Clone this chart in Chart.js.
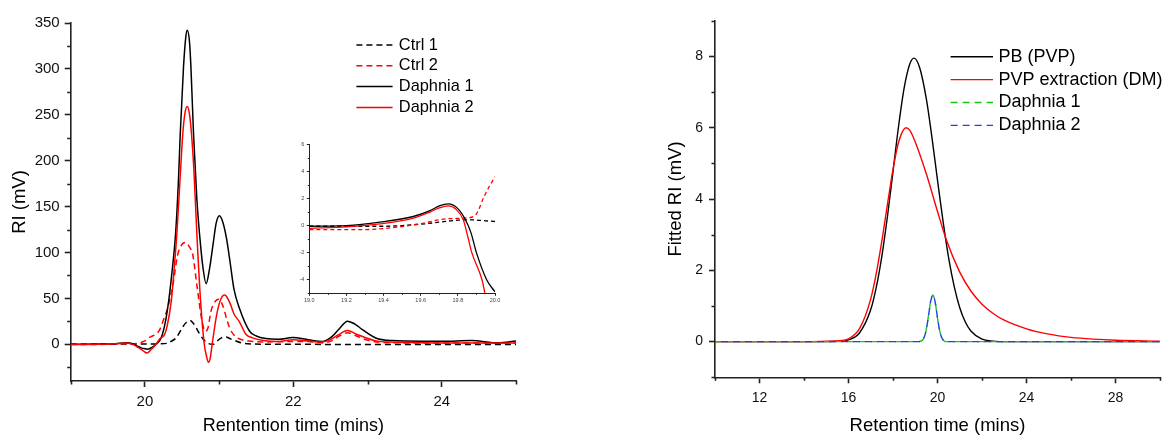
<!DOCTYPE html>
<html>
<head>
<meta charset="utf-8">
<script src="https://cdn.jsdelivr.net/npm/chart.js@4.4.1/dist/chart.umd.min.js"></script>
<style>
  html, body { margin: 0; padding: 0; background: #fff; }
  #wrap { position: relative; width: 1168px; height: 435px; }
  canvas { position: absolute; }
  #left { left: 0; top: 0; }
  #inset { left: 280px; top: 130px; }
  #right { left: 600px; top: 0; }
</style>
</head>
<body>
<div id="wrap">
  <canvas id="left" width="540" height="435"></canvas>
  <canvas id="inset" width="230" height="180"></canvas>
  <canvas id="right" width="568" height="435"></canvas>
</div>
<script>
// ---- left panel: raw RI traces (time in mins, RI in mV)
var ctrl1T = [19.0, 19.8, 20.0, 20.2, 20.29, 20.35, 20.42, 20.51, 20.56, 20.61, 20.66, 20.69, 20.74, 20.78, 20.85, 20.92, 20.98, 21.03, 21.09, 21.15, 21.2, 21.3, 21.45, 22.0, 23.0, 24.0, 25.0];
var ctrl1V = [0, 0.4, 0.3, 0.5, 1, 3, 7, 19, 24, 26, 22, 18, 11, 6, 1, 0, 4, 7, 8, 6, 4.4, 1.5, 0.3, 0, -0.3, -0.3, -0.3];

var ctrl2T = [19.0, 19.4, 19.7, 19.9, 19.95, 20.0, 20.05, 20.1, 20.15, 20.2, 20.243, 20.3, 20.377, 20.44, 20.5, 20.544, 20.6, 20.646, 20.7, 20.77, 20.816, 20.85, 20.89, 20.95, 20.995, 21.05, 21.1, 21.14, 21.2, 21.27, 21.4, 21.6, 22.0, 22.2, 22.4, 22.52, 22.62, 22.73, 22.85, 22.98, 23.2, 23.6, 24.0, 24.5, 25.0];
var ctrl2V = [-0.3, -0.2, 0.4, 0.9, 2.1, 3.6, 7, 9, 11, 16, 25, 38, 64.5, 97, 109, 111, 106, 97, 64.5, 25, 14, 18, 36, 47, 49, 42, 28, 18, 10, 6, 3.5, 2.5, 3, 3, 1.5, 4, 9, 12.5, 9, 5, 2, 1.5, 1.5, 1.5, 1.5];

var daph1T = [19.0, 19.4, 19.6, 19.75, 19.85, 19.9, 19.95, 20.0, 20.04, 20.1, 20.15, 20.2, 20.235, 20.28, 20.32, 20.36, 20.413, 20.45, 20.476, 20.52, 20.55, 20.57, 20.6, 20.62, 20.655, 20.7, 20.736, 20.78, 20.825, 20.87, 20.92, 20.96, 21.004, 21.05, 21.1, 21.15, 21.2, 21.27, 21.41, 21.5, 21.63, 21.8, 21.99, 22.2, 22.39, 22.52, 22.62, 22.73, 22.83, 22.93, 23.11, 23.33, 23.73, 24.0, 24.4, 24.76, 25.0];
var daph1V = [0, 0.3, 0.7, 1.6, 0.2, -2, -3.9, -4.9, -5.3, -3, 0, 4, 10.6, 26, 47, 75, 120, 175, 229, 302, 334, 342, 330, 302, 229, 158, 120, 85, 66, 82, 110, 132, 140, 133, 115, 88, 60, 40, 14.2, 9, 6.2, 5.5, 7.3, 5, 3, 8.4, 17, 25.2, 22, 16, 6.9, 4, 3.3, 3.3, 4, 1.4, 3.5];

var daph2T = [19.0, 19.4, 19.6, 19.75, 19.85, 19.9, 19.95, 20.0, 20.03, 20.08, 20.15, 20.2, 20.265, 20.3, 20.355, 20.4, 20.43, 20.47, 20.51, 20.54, 20.57, 20.6, 20.628, 20.66, 20.7, 20.75, 20.8, 20.83, 20.856, 20.88, 20.906, 20.96, 21.0, 21.04, 21.075, 21.1, 21.15, 21.2, 21.27, 21.36, 21.45, 21.6, 21.8, 22.0, 22.2, 22.39, 22.5, 22.6, 22.73, 22.85, 22.98, 23.1, 23.29, 23.6, 24.0, 24.5, 25.0];
var daph2V = [-0.2, 0.1, 0.5, 1.45, -0.6, -3, -5.5, -8.5, -9.5, -6, 0, 6, 10.6, 20, 47, 88, 120, 175, 229, 252, 259, 251, 229, 190, 120, 47, 0, -13, -19.7, -15, 0, 29, 44, 52, 53.6, 52, 44, 33, 25, 11, 7, 4, 3, 5, 3.5, 2.4, 5, 10, 14.9, 11, 6.9, 4, 2.4, 2, 1.5, 1.5, 1.5];

// ---- inset: 19.0 - 20.0 min close-up
var inCtrl1T = [19.0, 19.2, 19.4, 19.5, 19.6, 19.7, 19.8, 19.88, 19.95, 20.0];
var inCtrl1V = [-0.05, -0.05, -0.05, 0, 0.1, 0.25, 0.4, 0.42, 0.35, 0.3];
var inCtrl2T = [19.0, 19.1, 19.29, 19.47, 19.61, 19.74, 19.85, 19.9, 19.94, 19.97, 20.0];
var inCtrl2V = [-0.3, -0.3, -0.3, -0.12, 0.17, 0.5, 0.57, 0.87, 2.1, 2.9, 3.6];
var inDaph1T = [19.0, 19.2, 19.38, 19.56, 19.65, 19.7, 19.75, 19.8, 19.84, 19.87, 19.9, 19.955, 20.0];
var inDaph1V = [-0.05, 0, 0.25, 0.67, 1.1, 1.45, 1.6, 1.25, 0.45, -0.5, -2, -4, -4.9];
var inDaph2T = [19.0, 19.2, 19.38, 19.56, 19.65, 19.7, 19.75, 19.79, 19.83, 19.855, 19.875, 19.93, 19.95];
var inDaph2V = [-0.2, -0.1, 0.12, 0.55, 1.0, 1.3, 1.45, 1.2, 0.4, -0.9, -2, -4, -5.3];

// ---- right panel: fitted RI
var pbT = [10, 14, 15, 15.5, 16, 16.5, 17, 17.25, 17.5, 17.75, 18, 18.25, 18.5, 18.75, 18.94, 19.2, 19.5, 19.75, 20, 20.25, 20.5, 20.75, 21, 21.25, 21.5, 22, 22.5, 23, 30];
var pbV = [0, 0, 0, 0.01, 0.05, 0.25, 0.9, 1.53, 2.4, 3.51, 4.77, 6.04, 7.11, 7.78, 7.95, 7.68, 6.8, 5.73, 4.53, 3.37, 2.35, 1.55, 0.95, 0.55, 0.3, 0.07, 0.015, 0, 0];
var pvpT = [10, 14, 15, 15.5, 16, 16.5, 17, 17.25, 17.55, 17.75, 18, 18.25, 18.58, 18.75, 19, 19.5, 20, 20.4, 21, 21.5, 22, 22.5, 23, 24, 25, 26, 27, 28, 30];
var pvpV = [0, 0, 0.01, 0.02, 0.08, 0.37, 1.2, 1.92, 3.02, 3.85, 4.83, 5.59, 6.0, 5.93, 5.6, 4.7, 3.65, 2.85, 1.95, 1.42, 1.05, 0.79, 0.6, 0.36, 0.21, 0.12, 0.07, 0.04, 0.015];
var fitDaphT = [10, 19.1, 19.3, 19.4, 19.5, 19.6, 19.7, 19.79, 19.9, 20.0, 20.1, 20.2, 20.3, 20.4, 30];
var fitDaph1V = [0, 0, 0.03, 0.12, 0.36, 0.75, 1.16, 1.31, 1.09, 0.66, 0.3, 0.1, 0.02, 0, 0];
var fitDaph2V = [0, 0, 0.03, 0.12, 0.35, 0.74, 1.15, 1.30, 1.09, 0.67, 0.3, 0.1, 0.02, 0, 0];

// ---- axis ticks
var leftXMajor = [20, 22, 24], leftXMinor = [19, 21, 23, 25];
var leftYMajor = [0, 50, 100, 150, 200, 250, 300, 350], leftYMinor = [-25, 25, 75, 125, 175, 225, 275, 325];
var inXMajor = [19.0, 19.2, 19.4, 19.6, 19.8, 20.0], inXMinor = [19.1, 19.3, 19.5, 19.7, 19.9];
var inYMajor = [-4, -2, 0, 2, 4, 6], inYMinor = [-5, -3, -1, 1, 3, 5];
var rightXMajor = [12, 16, 20, 24, 28], rightXMinor = [10, 14, 18, 22, 26, 30];
var rightYMajor = [0, 2, 4, 6, 8], rightYMinor = [-1, 1, 3, 5, 7, 9];

var FONT = "'Liberation Sans', Arial, sans-serif";
var AXIS = '#222';
Chart.defaults.font.family = FONT;
Chart.defaults.color = '#111';

function pts(t, v) {
    return t.map(function (x, i) { return { x: x, y: v[i] }; });
}

// minor tick marks (shorter than the library's major ticks)
var minorTicks = {
    id: 'minorTicks',
    afterDraw: function (chart, args, o) {
        var ctx = chart.ctx, a = chart.chartArea, sc = chart.scales;
        ctx.save();
        ctx.strokeStyle = AXIS;
        ctx.lineWidth = o.width;
        ctx.beginPath();
        (o.x || []).forEach(function (v) {
            var p = Math.round(sc.x.getPixelForValue(v)) + 0.5;
            ctx.moveTo(p, a.bottom);
            ctx.lineTo(p, a.bottom + o.len);
        });
        (o.y || []).forEach(function (v) {
            var p = Math.round(sc.y.getPixelForValue(v)) + 0.5;
            ctx.moveTo(a.left, p);
            ctx.lineTo(a.left - o.len, p);
        });
        ctx.stroke();
        ctx.restore();
    }
};

// line-sample legend placed inside the plot
var lineLegend = {
    id: 'lineLegend',
    afterDraw: function (chart, args, o) {
        if (!o.x) return;
        var ctx = chart.ctx;
        ctx.save();
        ctx.font = o.size + 'px ' + FONT;
        ctx.textBaseline = 'middle';
        chart.data.datasets.forEach(function (ds, i) {
            var y = o.top + i * o.row;
            ctx.strokeStyle = ds.borderColor;
            ctx.lineWidth = ds.borderWidth;
            ctx.setLineDash(ds.borderDash || []);
            ctx.lineDashOffset = 0;
            ctx.beginPath();
            ctx.moveTo(o.x, y);
            ctx.lineTo(o.x + o.len, y);
            ctx.stroke();
            ctx.setLineDash([]);
            ctx.fillStyle = '#000';
            ctx.fillText(ds.label, o.x + o.len + o.gap, y);
        });
        ctx.restore();
    }
};

function axis(o) {
    return {
        type: 'linear',
        position: o.pos,
        min: o.min,
        max: o.max,
        afterBuildTicks: function (s) {
            s.ticks = o.major.map(function (v) { return { value: v }; });
        },
        afterFit: function (s) {
            if (o.pos === 'bottom') s.height = o.size; else s.width = o.size;
        },
        border: { display: true, color: AXIS, width: o.bw },
        grid: { display: true, drawOnChartArea: false, drawTicks: true, tickLength: o.tick, tickColor: AXIS, tickWidth: o.bw },
        ticks: {
            autoSkip: false, maxRotation: 0, color: o.tickColor || '#111', padding: o.pad,
            font: { size: o.fs },
            callback: function (v) { return o.dec ? v.toFixed(o.dec) : v; }
        },
        title: o.title ? {
            display: true, text: o.title, color: '#000',
            font: { size: o.tfs, lineHeight: 1 },
            padding: o.tpad
        } : { display: false }
    };
}

function line(label, t, v, color, dash, order, w, offset) {
    return {
        label: label,
        data: pts(t, v),
        borderColor: color,
        borderWidth: w,
        borderDash: dash,
        borderDashOffset: offset || 0,
        order: order,
        pointRadius: 0,
        fill: false,
        cubicInterpolationMode: 'monotone'
    };
}

function baseOptions(padding, x, y, minor, legend) {
    return {
        responsive: false,
        animation: false,
        layout: { padding: padding },
        scales: { x: x, y: y },
        plugins: {
            legend: { display: false },
            tooltip: { enabled: false },
            minorTicks: minor,
            lineLegend: legend || {}
        }
    };
}

// Left chart
new Chart(document.getElementById('left').getContext('2d'), {
    type: 'line',
    data: {
        datasets: [
            line('Ctrl 1', ctrl1T, ctrl1V, '#000', [6, 4], 4, 1.5),
            line('Ctrl 2', ctrl2T, ctrl2V, '#ff0000', [6, 4], 3, 1.5),
            line('Daphnia 1', daph1T, daph1V, '#000', [], 2, 1.5),
            line('Daphnia 2', daph2T, daph2V, '#ff0000', [], 1, 1.5)
        ]
    },
    options: baseOptions({ top: 23, right: 24, left: 0, bottom: 0 },
        axis({ pos: 'bottom', min: 19, max: 25, major: leftXMajor, size: 54, bw: 1.6, tick: 6, pad: 6, fs: 15,
               title: 'Rentention time (mins)', tfs: 18, tpad: { top: 0, bottom: 0 } }),
        axis({ pos: 'left', min: -40, max: 350, major: leftYMajor, size: 70.7, bw: 1.6, tick: 6, pad: 5, fs: 15,
               title: 'RI (mV)', tfs: 18.5, tpad: { top: 11, bottom: 0 } }),
        { x: leftXMinor, y: leftYMinor, len: 3.5, width: 1.6 },
        { x: 356.4, len: 36.2, gap: 6.2, top: 45, row: 20.8, size: 16.4 }),
    plugins: [minorTicks, lineLegend]
});

// Inset
new Chart(document.getElementById('inset').getContext('2d'), {
    type: 'line',
    data: {
        datasets: [
            line('Ctrl 1', inCtrl1T, inCtrl1V, '#000', [4, 3], 4, 1.3),
            line('Ctrl 2', inCtrl2T, inCtrl2V, '#ff0000', [4, 3], 3, 1.3),
            line('Daphnia 1', inDaph1T, inDaph1V, '#000', [], 2, 1.3),
            line('Daphnia 2', inDaph2T, inDaph2V, '#ff0000', [], 1, 1.3)
        ]
    },
    options: baseOptions({ top: 14.3, right: 15, left: 0, bottom: 0 },
        axis({ pos: 'bottom', min: 19, max: 20, major: inXMajor, size: 16.7, bw: 1, tick: 2.5, pad: 1, fs: 5.5, dec: 1, tickColor: '#444' }),
        axis({ pos: 'left', min: -5, max: 6, major: inYMajor, size: 29.3, bw: 1, tick: 2.5, pad: 2.5, fs: 5.5, tickColor: '#444' }),
        { x: inXMinor, y: inYMinor, len: 1.5, width: 1 }, null),
    plugins: [minorTicks]
});

// Right chart
new Chart(document.getElementById('right').getContext('2d'), {
    type: 'line',
    data: {
        datasets: [
            line('PB (PVP)', pbT, pbV, '#000', [], 4, 1.4),
            line('PVP extraction (DM)', pvpT, pvpV, '#ff0000', [], 3, 1.4),
            line('Daphnia 1', fitDaphT, fitDaph1V, '#11cc11', [7, 5], 2, 1.4, 0),
            line('Daphnia 2', fitDaphT, fitDaph2V, '#1f3fe8', [7, 5], 1, 1.4, 6)
        ]
    },
    options: baseOptions({ top: 20.7, right: 8, left: 0, bottom: 0 },
        axis({ pos: 'bottom', min: 10, max: 30, major: rightXMajor, size: 57.7, bw: 1.6, tick: 6, pad: 6, fs: 14,
               title: 'Retention time (mins)', tfs: 18.5, tpad: { top: 0, bottom: 0 } }),
        axis({ pos: 'left', min: -1, max: 9, major: rightYMajor, size: 115, bw: 1.6, tick: 6, pad: 6, fs: 14,
               title: 'Fitted RI (mV)', tfs: 18.5, tpad: { top: 67, bottom: 0 } }),
        { x: rightXMinor, y: rightYMinor, len: 3.5, width: 1.6 },
        { x: 350.6, len: 42.4, gap: 5.4, top: 56.7, row: 22.9, size: 18 }),
    plugins: [minorTicks, lineLegend]
});
</script>
</body>
</html>
